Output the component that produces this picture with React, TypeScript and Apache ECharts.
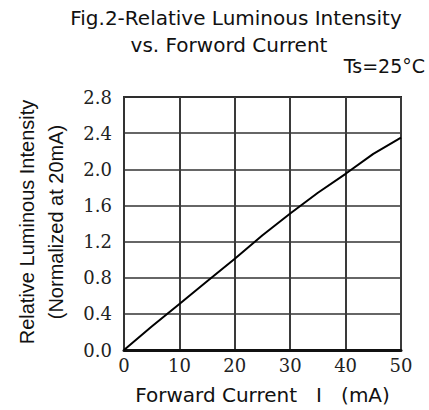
import React, { useEffect, useRef } from "react";
import * as echarts from "echarts";

const currents = [0, 5, 10, 15, 20, 25, 30, 35, 40, 45, 50];
const intensity = [0, 0.26, 0.51, 0.76, 1.01, 1.27, 1.51, 1.74, 1.95, 2.17, 2.35];
const titleLines = ["Fig.2-Relative Luminous Intensity", "vs. Forword Current"];
const condition = "Ts=25°C";
const xName = "Forward Current   I   (mA)";
const yNameLines = ["Relative Luminous Intensity", "(Normalized at 20mA)"];

export default function App() {
  const ref = useRef<HTMLDivElement>(null);
  useEffect(() => {
    if (!ref.current) return;
    const chart = echarts.init(ref.current, null, { renderer: "svg" });
    const sans = "DejaVu Sans";
    chart.setOption({
      animation: false,
      backgroundColor: "#fff",
      grid: {
        left: 124,
        right: 28,
        top: 97,
        bottom: 60,
        show: true,
        borderColor: "#222",
        borderWidth: 2,
        containLabel: false,
      },
      graphic: [
        {
          type: "text",
          x: 236,
          y: 18,
          style: {
            text: titleLines[0],
            font: `20px '${sans}'`,
            fill: "#111",
            align: "center",
            verticalAlign: "middle",
          },
        },
        {
          type: "text",
          x: 229,
          y: 45,
          style: {
            text: titleLines[1],
            font: `20px '${sans}'`,
            fill: "#111",
            align: "center",
            verticalAlign: "middle",
          },
        },
        {
          type: "text",
          x: 425,
          y: 66,
          style: {
            text: condition,
            font: `19px '${sans}'`,
            fill: "#111",
            align: "right",
            verticalAlign: "middle",
          },
        },
        {
          type: "text",
          x: 41,
          y: 222,
          rotation: Math.PI / 2,
          style: {
            text: yNameLines.join("\n"),
            font: `20px 'Liberation Sans'`,
            lineHeight: 29,
            fill: "#111",
            align: "center",
            verticalAlign: "middle",
          },
        },
      ],
      xAxis: {
        type: "value",
        min: 0,
        max: 50,
        interval: 10,
        name: xName,
        nameLocation: "middle",
        nameGap: 35,
        nameTextStyle: {
          fontFamily: sans,
          fontSize: 20,
          color: "#111",
          lineHeight: 20,
        },
        axisLine: { show: true, lineStyle: { color: "#111", width: 3 } },
        axisTick: { show: false },
        axisLabel: {
          margin: 6,
          fontFamily: "DejaVu Serif",
          fontSize: 18,
          color: "#222",
        },
        splitLine: { show: true, lineStyle: { color: "#3a3a3a", width: 2 } },
      },
      yAxis: {
        type: "value",
        min: 0,
        max: 2.8,
        interval: 0.4,
        axisLine: { show: true, lineStyle: { color: "#333", width: 2 } },
        axisTick: { show: false },
        axisLabel: {
          margin: 12,
          fontFamily: "DejaVu Serif",
          fontSize: 18,
          color: "#222",
          formatter: (v: number) => v.toFixed(1),
        },
        splitLine: { show: true, lineStyle: { color: "#333", width: 1.5 } },
      },
      series: [
        {
          type: "line",
          data: currents.map((c, i) => [c, intensity[i]]),
          smooth: false,
          showSymbol: false,
          lineStyle: { color: "#000", width: 2 },
        },
      ],
    });
    return () => chart.dispose();
  }, []);
  return (
    <div
      ref={ref}
      style={{ position: "fixed", left: 0, top: 0, width: 429, height: 410 }}
    />
  );
}
